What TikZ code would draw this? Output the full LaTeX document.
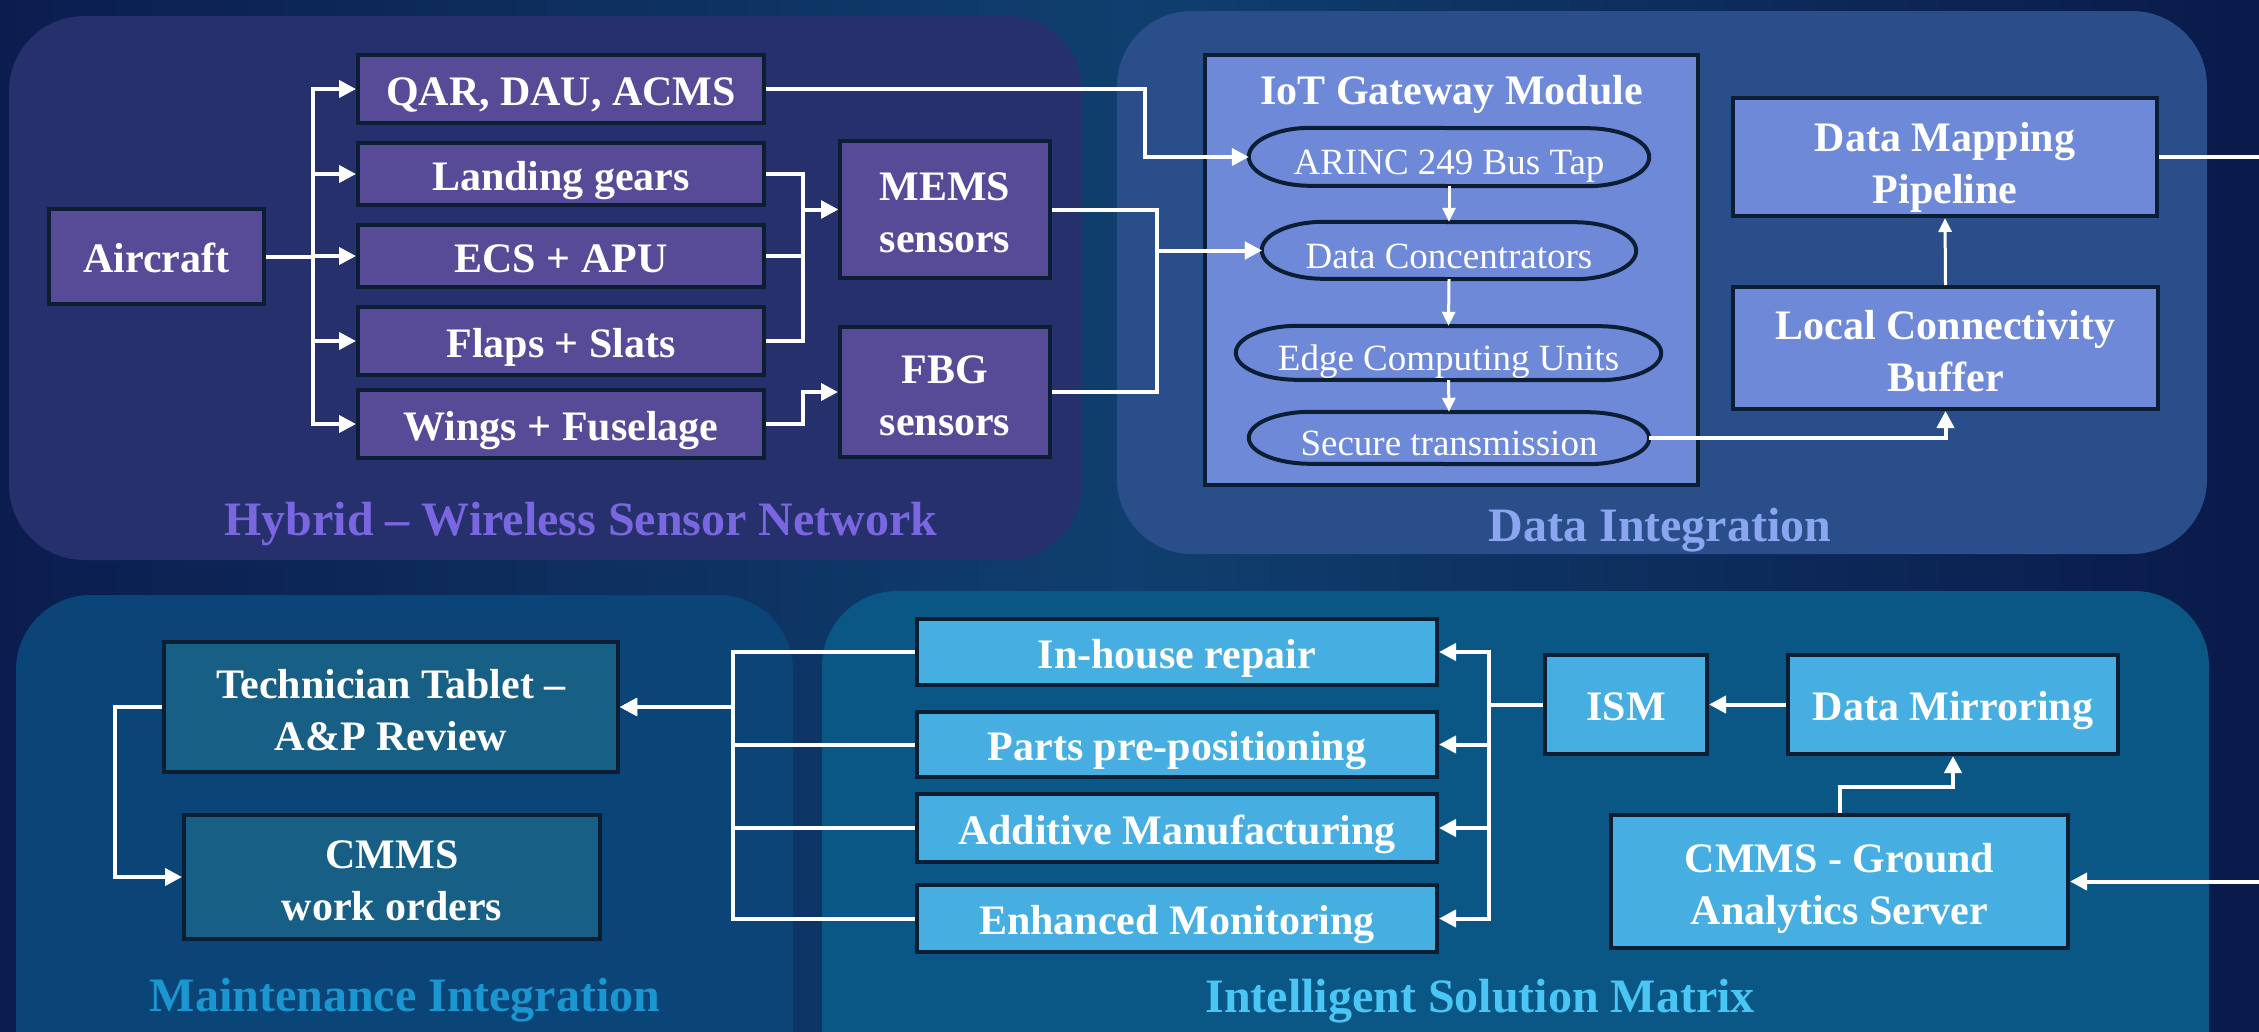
\documentclass[tikz,border=0pt]{standalone}
\usepackage{fontspec}
\setmainfont{Liberation Serif}
\usetikzlibrary{arrows.meta,calc}
\definecolor{bgL}{HTML}{0B1D4E}
\definecolor{bgM}{HTML}{0F3F6E}
\definecolor{bgR}{HTML}{0A1A4A}
\definecolor{pA}{HTML}{25306C}
\definecolor{pB}{HTML}{2A4E8A}
\definecolor{pC}{HTML}{0B4577}
\definecolor{pD}{HTML}{0A5685}
\definecolor{bord}{HTML}{0B1E33}
\definecolor{purp}{HTML}{574A96}
\definecolor{iotc}{HTML}{6F89D9}
\definecolor{tealb}{HTML}{175F84}
\definecolor{lightb}{HTML}{46AEE0}
\definecolor{labA}{HTML}{7A66E0}
\definecolor{labB}{HTML}{8AA6F0}
\definecolor{labC}{HTML}{1A96D0}
\definecolor{labD}{HTML}{4AC6F4}
\tikzset{
  box/.style={draw=bord, line width=4pt, align=center, text=white, inner sep=0pt,
    text height=32pt, text depth=0pt,
    font=\bfseries\fontsize{42}{52}\selectfont},
  two/.style={text height=86pt, text depth=0pt},
  capnode/.style={inner sep=0pt, align=center, text=white, font=\fontsize{37}{44}\selectfont},
  captext/.style={capnode, text height=35pt, text depth=0pt},
  capline/.style={draw=bord, line width=4pt, fill=iotc},
  arr/.style={draw=white, line width=4pt, -{Triangle[length=17pt,width=17pt]}},
  thinarr/.style={draw=white, line width=3pt, -{Triangle[length=14pt,width=13pt]}},
  panel/.style={rounded corners=75pt},
  plabel/.style={anchor=base, font=\bfseries\fontsize{48}{56}\selectfont},
}
\begin{document}
\begin{tikzpicture}[x=1pt,y=-1pt]
\useasboundingbox (0,0) rectangle (2259,1031);
% background
\fill[left color=bgL, right color=bgR, middle color=bgM] (0,0) rectangle (2259,1031);
% panels
\fill[pA, panel] (9,16) rectangle (1082,560);
\fill[pB, panel] (1117,11) rectangle (2207,554);
\fill[pC, panel] (16,595) rectangle (793,1110);
\fill[pD, panel] (822,591) rectangle (2209,1110);

% panel labels
\node[plabel, text=labA] (lA) at (581,535) {Hybrid – Wireless Sensor Network};
\node[plabel, text=labB] (lB) at (1660,541) {Data Integration};
\node[plabel, text=labC] (lC) at (405,1011) {Maintenance Integration};
\node[plabel, text=labD] (lD) at (1480,1012) {Intelligent Solution Matrix};

% ---- Hybrid network
\node[box, fill=purp, minimum width=215pt, minimum height=95pt] (air) at (156.5,256.5) {Aircraft};
\node[box, fill=purp, minimum width=406pt, minimum height=68pt] (qar) at (561,89) {QAR, DAU, ACMS};
\node[box, fill=purp, minimum width=406pt, minimum height=62pt] (lg) at (561,174) {Landing gears};
\node[box, fill=purp, minimum width=406pt, minimum height=62pt] (ecs) at (561,256) {ECS + APU};
\node[box, fill=purp, minimum width=406pt, minimum height=68pt] (flp) at (561,341) {Flaps + Slats};
\node[box, fill=purp, minimum width=406pt, minimum height=68pt] (wng) at (561,424) {Wings + Fuselage};
\node[box, two, fill=purp, minimum width=210pt, minimum height=137pt] (mems) at (945,209.5) {MEMS\\sensors};
\node[box, two, fill=purp, minimum width=210pt, minimum height=130pt] (fbg) at (945,392) {FBG\\sensors};

\foreach \b in {qar,lg,ecs,flp,wng} {
  \draw[arr] (air.east) -- ++(47,0) |- (\b.west);
}
\foreach \b in {lg,ecs,flp} {
  \draw[arr] (\b.east) -- ++(37,0) |- (mems.west);
}
\draw[arr] (wng.east) -- ++(37,0) |- (fbg.west);

% ---- Data integration
\node[box, fill=iotc, minimum width=493pt, minimum height=430pt] (iot) at (1451.5,270) {};
\node[box, draw=none, anchor=base, text height=0pt] (iott) at (1451.5,104) {IoT Gateway Module};

\node[capnode, minimum width=400pt, minimum height=58pt] (arinc) at (1449,157) {};
\node[capnode, minimum width=374pt, minimum height=57pt] (dc) at (1449,250.5) {};
\node[capnode, minimum width=425pt, minimum height=54pt] (edge) at (1448.5,353) {};
\node[capnode, minimum width=400pt, minimum height=52pt] (sec) at (1449,438) {};
\foreach \n/\h in {arinc/29,dc/28.5,edge/27,sec/26} {
  \path[capline] ([xshift=62pt]\n.north west) arc[start angle=270,end angle=90,x radius=62,y radius=\h]
    -- ([xshift=-62pt]\n.south east) arc[start angle=90,end angle=-90,x radius=62,y radius=\h] -- cycle;
}
\node[captext] (arinct) at (arinc) {ARINC 249 Bus Tap};
\node[captext] (dct) at (dc) {Data Concentrators};
\node[captext] (edget) at (edge) {Edge Computing Units};
\node[captext] (sect) at (sec) {Secure transmission};

\draw[thinarr] (arinc.south) -- (dc.north);
\draw[thinarr] (dc.south) -- (edge.north);
\draw[thinarr] (edge.south) -- (sec.north);

\node[box, two, text height=92pt, fill=iotc, minimum width=424pt, minimum height=118pt] (dmp) at (1945,157) {Data Mapping\\Pipeline};
\node[box, two, fill=iotc, minimum width=425pt, minimum height=122pt] (lcb) at (1945.5,348) {Local Connectivity\\Buffer};

\draw[arr] (qar.east) -| ([xshift=-104pt]arinc.west) -- (arinc.west);
\draw[arr] (mems.east) -| ([xshift=-105pt]dc.west) -- (dc.west);
\draw[arr] (fbg.east) -| ([xshift=-105pt]dc.west) -- (dc.west);
\draw[arr] (sec.east) -| (lcb.south);
\draw[thinarr] (lcb.north) -- (dmp.south);

% ---- Intelligent solution matrix
\node[box, fill=lightb, minimum width=520pt, minimum height=66pt] (inh) at (1177,652) {In-house repair};
\node[box, fill=lightb, minimum width=520pt, minimum height=65pt] (prt) at (1177,744.5) {Parts pre-positioning};
\node[box, fill=lightb, minimum width=520pt, minimum height=68pt] (add) at (1177,828) {Additive Manufacturing};
\node[box, fill=lightb, minimum width=520pt, minimum height=67pt] (enh) at (1177,918.5) {Enhanced Monitoring};
\node[box, fill=lightb, minimum width=162pt, minimum height=99pt] (ism) at (1626,704.5) {ISM};
\node[box, fill=lightb, minimum width=330pt, minimum height=99pt] (dm) at (1953,704.5) {Data Mirroring};
\node[box, two, fill=lightb, minimum width=457pt, minimum height=133pt] (cg) at (1839.5,881.5) {CMMS - Ground\\Analytics Server};

\draw[arr] (dmp.east) -- ++(150,0) |- (cg.east);
\draw[arr] (cg.north) |- ($(dm.south)+(0,31)$) -- (dm.south);
\draw[arr] (dm.west) -- (ism.east);
\foreach \b in {inh,prt,add,enh} {
  \draw[arr] (ism.west) -- ++(-54,0) |- (\b.east);
}

% ---- Maintenance integration
\node[box, two, fill=tealb, minimum width=454pt, minimum height=130pt] (tech) at (391,707) {Technician Tablet –\\A\&P Review};
\node[box, two, fill=tealb, minimum width=416pt, minimum height=124pt] (cwo) at (392,877) {CMMS\\work orders};

\foreach \b in {inh,prt,add,enh} {
  \draw[arr] (\b.west) -- ++(-182,0) |- (tech.east);
}
\draw[arr] (tech.west) -- ++(-47,0) |- (cwo.west);
\end{tikzpicture}
\end{document}
